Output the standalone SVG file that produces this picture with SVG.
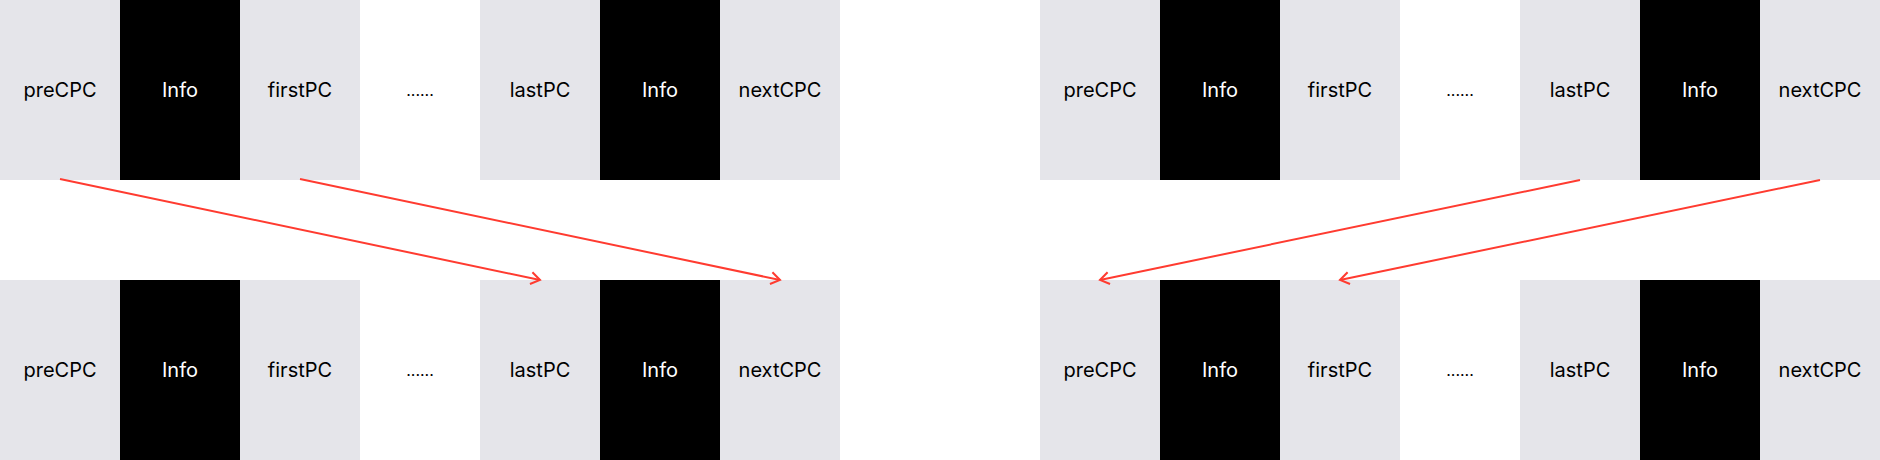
<svg xmlns="http://www.w3.org/2000/svg" width="1880" height="460" viewBox="0 0 1880 460">
<style>
.g{fill:#e5e5ea}
.b{fill:#000}
.t{font-family:Inter,"Liberation Sans",sans-serif;font-size:20px;text-anchor:middle;dominant-baseline:central}
.tg{fill:#000}
.tb{fill:#fff}
.d{font-family:Inter,"Liberation Sans",sans-serif;font-size:16px;text-anchor:middle;fill:#000}
.c{stroke:#ff3b30;stroke-width:2;fill:none;marker-end:url(#ah)}
</style>
<defs>
<marker id="ah" markerWidth="14" markerHeight="14" refX="11" refY="7" orient="auto" markerUnits="userSpaceOnUse">
<path d="M2,1 L11,7 L2,13" fill="none" stroke="#ff3b30" stroke-width="2"/>
</marker>
</defs>
<rect width="1880" height="460" fill="#fff"/>
<g id="top-left">
<g id="tl-preCPC"><rect class="g" x="0" y="0" width="120" height="180"/><text class="t tg" x="60" y="90">preCPC</text></g>
<g id="tl-info1"><rect class="b" x="120" y="0" width="120" height="180"/><text class="t tb" x="180" y="90">Info</text></g>
<g id="tl-firstPC"><rect class="g" x="240" y="0" width="120" height="180"/><text class="t tg" x="300" y="90">firstPC</text></g>
<g id="tl-dots"><text class="d" x="420" y="96">......</text></g>
<g id="tl-lastPC"><rect class="g" x="480" y="0" width="120" height="180"/><text class="t tg" x="540" y="90">lastPC</text></g>
<g id="tl-info2"><rect class="b" x="600" y="0" width="120" height="180"/><text class="t tb" x="660" y="90">Info</text></g>
<g id="tl-nextCPC"><rect class="g" x="720" y="0" width="120" height="180"/><text class="t tg" x="780" y="90">nextCPC</text></g>
</g>
<g id="bottom-left">
<g id="bl-preCPC"><rect class="g" x="0" y="280" width="120" height="180"/><text class="t tg" x="60" y="370">preCPC</text></g>
<g id="bl-info1"><rect class="b" x="120" y="280" width="120" height="180"/><text class="t tb" x="180" y="370">Info</text></g>
<g id="bl-firstPC"><rect class="g" x="240" y="280" width="120" height="180"/><text class="t tg" x="300" y="370">firstPC</text></g>
<g id="bl-dots"><text class="d" x="420" y="376">......</text></g>
<g id="bl-lastPC"><rect class="g" x="480" y="280" width="120" height="180"/><text class="t tg" x="540" y="370">lastPC</text></g>
<g id="bl-info2"><rect class="b" x="600" y="280" width="120" height="180"/><text class="t tb" x="660" y="370">Info</text></g>
<g id="bl-nextCPC"><rect class="g" x="720" y="280" width="120" height="180"/><text class="t tg" x="780" y="370">nextCPC</text></g>
</g>
<g id="top-right">
<g id="tr-preCPC"><rect class="g" x="1040" y="0" width="120" height="180"/><text class="t tg" x="1100" y="90">preCPC</text></g>
<g id="tr-info1"><rect class="b" x="1160" y="0" width="120" height="180"/><text class="t tb" x="1220" y="90">Info</text></g>
<g id="tr-firstPC"><rect class="g" x="1280" y="0" width="120" height="180"/><text class="t tg" x="1340" y="90">firstPC</text></g>
<g id="tr-dots"><text class="d" x="1460" y="96">......</text></g>
<g id="tr-lastPC"><rect class="g" x="1520" y="0" width="120" height="180"/><text class="t tg" x="1580" y="90">lastPC</text></g>
<g id="tr-info2"><rect class="b" x="1640" y="0" width="120" height="180"/><text class="t tb" x="1700" y="90">Info</text></g>
<g id="tr-nextCPC"><rect class="g" x="1760" y="0" width="120" height="180"/><text class="t tg" x="1820" y="90">nextCPC</text></g>
</g>
<g id="bottom-right">
<g id="br-preCPC"><rect class="g" x="1040" y="280" width="120" height="180"/><text class="t tg" x="1100" y="370">preCPC</text></g>
<g id="br-info1"><rect class="b" x="1160" y="280" width="120" height="180"/><text class="t tb" x="1220" y="370">Info</text></g>
<g id="br-firstPC"><rect class="g" x="1280" y="280" width="120" height="180"/><text class="t tg" x="1340" y="370">firstPC</text></g>
<g id="br-dots"><text class="d" x="1460" y="376">......</text></g>
<g id="br-lastPC"><rect class="g" x="1520" y="280" width="120" height="180"/><text class="t tg" x="1580" y="370">lastPC</text></g>
<g id="br-info2"><rect class="b" x="1640" y="280" width="120" height="180"/><text class="t tb" x="1700" y="370">Info</text></g>
<g id="br-nextCPC"><rect class="g" x="1760" y="280" width="120" height="180"/><text class="t tg" x="1820" y="370">nextCPC</text></g>
</g>
<g id="connectors">
<line class="c" x1="60" y1="179" x2="540" y2="280"/>
<line class="c" x1="300" y1="179" x2="780" y2="280"/>
<line class="c" x1="1580" y1="180" x2="1100" y2="280"/>
<line class="c" x1="1820" y1="180" x2="1340" y2="280"/>
</g>
</svg>
